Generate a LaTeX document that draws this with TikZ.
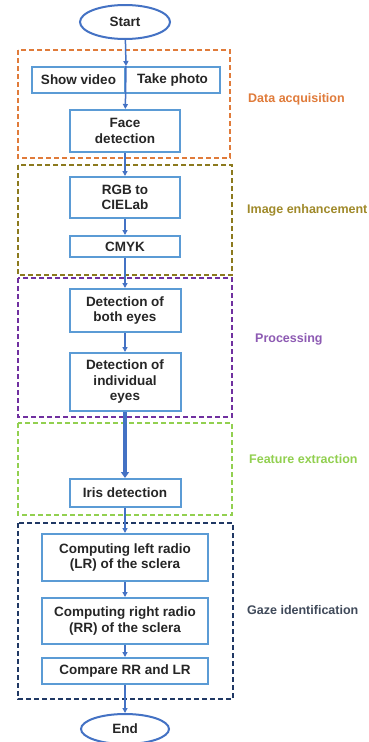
\documentclass[tikz,border=0pt]{standalone}
\usepackage{fontspec}
\setmainfont{Liberation Sans}
\usepackage{xcolor}
\usetikzlibrary{shapes.geometric,arrows.meta}

\definecolor{boxblue}{HTML}{5B9BD5}
\definecolor{arrowblue}{HTML}{4472C4}
\definecolor{acqcol}{HTML}{E07B3A}
\definecolor{enhcol}{HTML}{8C7A1E}
\definecolor{enhtext}{HTML}{A08A2A}
\definecolor{proccol}{HTML}{7030A0}
\definecolor{featcol}{HTML}{92D050}
\definecolor{gazecol}{HTML}{203864}
\definecolor{gazetext}{HTML}{404A5A}
\definecolor{txtgray}{HTML}{262626}

\begin{document}
\begin{tikzpicture}[x=1pt,y=-1pt,
		font=\fontsize{13.5}{15.5}\selectfont\bfseries,
		stepbox/.style={draw=boxblue,line width=2pt,fill=white,rectangle,align=center,text=txtgray,inner sep=0pt},
		terminal/.style={draw=arrowblue,line width=2pt,fill=white,ellipse,text=txtgray,inner sep=0pt,minimum width=90pt,minimum height=34pt},
		flow/.style={draw=arrowblue,line width=1.5pt,-{Triangle[length=5pt,width=5pt]}},
		phase/.style={dash pattern=on 5pt off 3pt,line width=1.6pt},
		phaselabel/.style={anchor=west,inner sep=0pt,font=\fontsize{12.5}{14}\selectfont\bfseries}]
		\useasboundingbox[fill=white] (0,0) rectangle (368,742);
		
		\draw[phase,acqcol] (18,50) rectangle (230,158);
		\draw[phase,enhcol] (18,165) rectangle (232,275);
		\draw[phase,proccol] (18,278) rectangle (232,417);
		\draw[phase,featcol] (18,423) rectangle (232,515);
		\draw[phase,gazecol] (18,523) rectangle (233,699);
		
		\node[terminal] (start) at (125,22) {Start};
		\node[stepbox,minimum width=93pt,minimum height=26pt] (video) at (78.5,80) {Show video};
		\node[stepbox,minimum width=95pt,minimum height=26pt] (photo) at (172.5,80) {Take photo};
		\node[stepbox,minimum width=110pt,minimum height=42pt] (face) at (125,131) {Face\\detection};
		\node[stepbox,minimum width=110pt,minimum height=41pt] (rgb) at (125,197.5) {RGB to\\CIELab};
		\node[stepbox,minimum width=110pt,minimum height=21pt] (cmyk) at (125,246.5) {CMYK};
		\node[stepbox,minimum width=111pt,minimum height=43pt] (both) at (125,310.5) {Detection of\\both eyes};
		\node[stepbox,minimum width=111pt,minimum height=58pt] (indiv) at (125,382) {Detection of\\individual\\eyes};
		\node[stepbox,minimum width=111pt,minimum height=28pt] (iris) at (125,493) {Iris detection};
		\node[stepbox,minimum width=166pt,minimum height=47pt] (left) at (125,557.5) {Computing left radio\\(LR) of the sclera};
		\node[stepbox,minimum width=166pt,minimum height=46pt] (right) at (125,621) {Computing right radio\\(RR) of the sclera};
		\node[stepbox,minimum width=166pt,minimum height=26pt] (compare) at (125,671) {Compare RR and LR};
		\node[terminal,minimum width=88pt,minimum height=30pt] (end) at (125,729) {End};
		
		\draw[flow] (start) -- (video.north east);
		\draw[flow] (video.north east) -- (face);
		\draw[flow] (face) -- (rgb);
		\draw[flow] (rgb) -- (cmyk);
		\draw[flow] (cmyk) -- (both);
		\draw[flow] (both) -- (indiv);
		\draw[flow,line width=4pt,-{Triangle[length=6pt,width=8pt]}] (indiv) -- (iris);
		\draw[flow] (iris) -- (left);
		\draw[flow] (left) -- (right);
		\draw[flow] (right) -- (compare);
		\draw[flow] (compare) -- (end);
		
		\node[phaselabel,text=acqcol] (acqlabel) at (248,99) {Data acquisition};
		\node[phaselabel,text=enhtext] (enhlabel) at (247,210) {Image enhancement};
		\node[phaselabel,text=proccol!80] (proclabel) at (255,339) {Processing};
		\node[phaselabel,text=featcol] (featlabel) at (249,459) {Feature extraction};
		\node[phaselabel,text=gazetext] (gazelabel) at (247,610) {Gaze identification};
	\end{tikzpicture}
\end{document}
